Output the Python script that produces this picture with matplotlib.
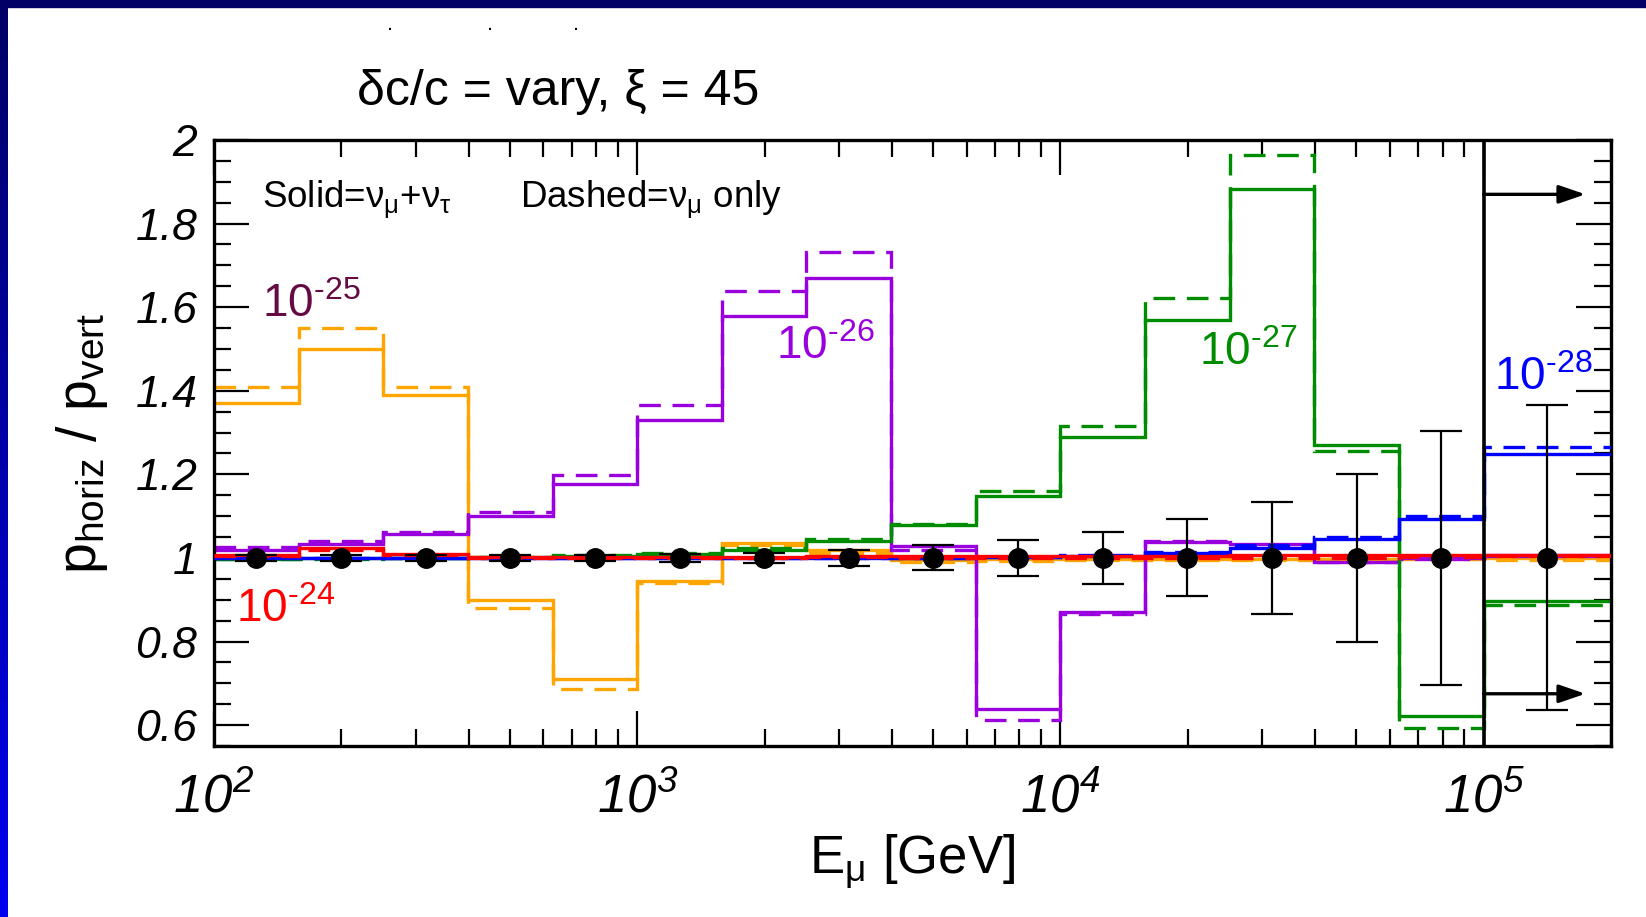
import numpy as np
import matplotlib
matplotlib.use('Agg')
import matplotlib.pyplot as plt
from matplotlib import font_manager as fm
from matplotlib.ticker import LogLocator, MultipleLocator, FuncFormatter, NullFormatter
from matplotlib.colors import LinearSegmentedColormap

names = {f.name for f in fm.fontManager.ttflist}
NARROW = 'Liberation Sans Narrow' if 'Liberation Sans Narrow' in names else 'Liberation Sans'

plt.rcParams['font.family'] = [NARROW, 'DejaVu Sans']
plt.rcParams['mathtext.fontset'] = 'custom'
plt.rcParams['mathtext.rm'] = NARROW
plt.rcParams['mathtext.it'] = NARROW + ':italic'
plt.rcParams['mathtext.sf'] = NARROW
plt.rcParams['mathtext.bf'] = NARROW + ':bold'

# ---------------- data ----------------
bin_edges = [100, 158.5, 251.2, 398.1, 631.0, 1000, 1585, 2512, 3981, 6310,
             10000, 15850, 25120, 39810, 63100, 100000, 200000]
bin_centers = [125.9, 199.5, 316.2, 501.2, 794.3, 1259, 1995, 3162, 5012, 7943,
               12590, 19950, 31620, 50120, 79430, 141400]
data_ratio = [1.0, 1.0, 1.0, 1.0, 1.0, 1.0, 1.0, 1.0, 1.0, 1.0, 1.0, 1.0, 1.0, 1.0, 1.0, 1.0]
data_err = [0.008, 0.008, 0.008, 0.008, 0.008, 0.009, 0.012, 0.02, 0.03, 0.044,
            0.063, 0.092, 0.135, 0.2, 0.303, 0.365]

red_solid = [1.007, 1.024, 1.010, 1.003, 1.002, 1.002, 1.003, 1.005, 1.005, 1.005,
             1.005, 1.005, 1.006, 1.006, 1.007, 1.008]
red_dashed = [1.004, 1.020, 1.008, 1.000, 0.999, 1.000, 1.000, 1.002, 1.000, 1.000,
              1.001, 1.000, 1.000, 1.000, 1.002, 1.004]
orange_solid = [1.37, 1.50, 1.39, 0.90, 0.71, 0.945, 1.035, 1.02, 0.995, 0.997,
                0.998, 0.998, 0.998, 0.998, 0.999, 0.999]
orange_dashed = [1.41, 1.55, 1.41, 0.88, 0.686, 0.941, 1.03, 1.012, 0.99, 0.993,
                 0.995, 0.995, 0.996, 0.997, 0.997, 0.995]
purple_solid = [1.02, 1.033, 1.057, 1.10, 1.178, 1.33, 1.58, 1.67, 1.028, 0.638,
                0.870, 1.037, 1.034, 0.99, 1.0, 1.008]
purple_dashed = [1.025, 1.04, 1.063, 1.11, 1.198, 1.366, 1.639, 1.732, 1.02, 0.612,
                 0.867, 1.04, 1.03, 0.99, 0.998, 1.005]
green_solid = [0.998, 0.999, 1.0, 1.002, 1.005, 1.01, 1.02, 1.04, 1.078, 1.147,
               1.29, 1.57, 1.883, 1.27, 0.621, 0.897]
green_dashed = [0.997, 0.998, 1.0, 1.003, 1.006, 1.012, 1.024, 1.046, 1.082, 1.161,
                1.315, 1.621, 1.964, 1.255, 0.594, 0.887]
blue_solid = [0.999, 0.999, 0.999, 0.999, 1.0, 1.0, 1.0, 1.0, 1.0, 1.002,
              1.005, 1.011, 1.023, 1.045, 1.093, 1.249]
blue_dashed = [0.999, 0.999, 0.999, 1.0, 1.0, 1.0, 1.0, 1.0, 1.0, 1.003,
               1.007, 1.015, 1.03, 1.05, 1.10, 1.265]

series_labels = [r'$\mathrm{10^{\text{-24}}}$', r'$\mathrm{10^{\text{-25}}}$', r'$\mathrm{10^{\text{-26}}}$',
                 r'$\mathrm{10^{\text{-27}}}$', r'$\mathrm{10^{\text{-28}}}$']
label_x = [113, 130, 2130, 21300, 106000]
label_y = [0.875, 1.605, 1.505, 1.49, 1.43]
label_colors = ['#ff0000', '#660a44', '#9900dd', '#008c00', '#0000ff']

arrow_y = [1.87, 0.675]
arrow_x = [100000, 174000]

ORANGE = '#ffa500'
PURPLE = '#9900dd'
GREEN = '#008c00'
BLUE = '#0000ff'
RED = '#ff0000'

# ---------------- figure ----------------
W, H = 1646, 917
fig = plt.figure(figsize=(W / 100, H / 100), dpi=100)
ax = fig.add_axes([214 / W, 1 - 746 / H, (1611 - 214) / W, (746 - 140) / H])

# frame decoration
fig.patches.append(plt.Rectangle((0, 1 - 7 / H), 1, 7 / H, transform=fig.transFigure,
                                 color='#000066', zorder=0))
bar = fig.add_axes([0, 0, 8 / W, 1 - 7 / H])
grad = np.linspace(0, 1, 256).reshape(-1, 1)
cmap = LinearSegmentedColormap.from_list('b', ['#000066', '#0000f0'])
bar.imshow(grad, aspect='auto', cmap=cmap, extent=[0, 1, 0, 1], origin='upper')
bar.set_axis_off()

lw = 2.4
dash = (6.5, 3.5)

def draw(vals, color, dashed=False, z=2):
    ls = (0, dash) if dashed else '-'
    ax.stairs(vals, bin_edges, baseline=None, color=color, lw=lw, linestyle=ls, zorder=z)

draw(orange_solid, ORANGE); draw(orange_dashed, ORANGE, True)
draw(purple_solid, PURPLE); draw(purple_dashed, PURPLE, True)
draw(green_solid, GREEN); draw(green_dashed, GREEN, True)
draw(blue_solid, BLUE, z=3); draw(blue_dashed, BLUE, True, z=3)
draw(red_solid, RED, z=4); draw(red_dashed, RED, True, z=4)

ax.errorbar(bin_centers, data_ratio, yerr=data_err, fmt='o', color='black',
            markersize=14, elinewidth=1.6, capsize=15, capthick=1.6, zorder=6)

ax.axvline(100000, color='black', lw=2.6, zorder=5)
for yy in arrow_y:
    ax.annotate('', xy=(arrow_x[1], yy), xytext=(arrow_x[0], yy),
                arrowprops=dict(arrowstyle='-|>,head_length=1.6,head_width=0.55', lw=2.4,
                                color='black', shrinkA=0, shrinkB=0), zorder=7)

for t, x, y, c in zip(series_labels, label_x, label_y, label_colors):
    ax.text(x, y, t, color=c, fontsize=33, ha='left', va='center', zorder=8)

ax.text(130, 1.857, r'Solid=$\mathrm{\nu_{\mu}{+}\nu_{\tau}}$', fontsize=26.5, va='center', ha='left')
ax.text(528, 1.857, r'Dashed=$\mathrm{\nu_{\mu}}$ only', fontsize=26.5, va='center', ha='left')

ax.set_xscale('log')
ax.set_xlim(100, 200000)
ax.set_ylim(0.55, 2.0)
ax.xaxis.set_major_locator(LogLocator(base=10))
ax.xaxis.set_minor_locator(LogLocator(base=10, subs=np.arange(2, 10)))
ax.xaxis.set_minor_formatter(NullFormatter())
ax.xaxis.set_major_formatter(FuncFormatter(lambda v, p: r'$\mathregular{10^{%d}}$' % round(np.log10(v))))
ax.yaxis.set_major_locator(MultipleLocator(0.2))
ax.yaxis.set_minor_locator(MultipleLocator(0.05))
ax.yaxis.set_major_formatter(FuncFormatter(lambda v, p: ('%.1f' % v).rstrip('0').rstrip('.')))

ax.tick_params(which='both', direction='in', top=True, right=True, width=1.6)
ax.tick_params(which='major', length=25)
ax.tick_params(which='minor', length=12)
ax.tick_params(axis='y', labelsize=32, pad=12)
ax.tick_params(axis='x', labelsize=38, pad=20)
for lab in ax.get_yticklabels() + ax.get_xticklabels():
    lab.set_fontstyle('italic')
for s in ax.spines.values():
    s.set_linewidth(2.4)

ax.set_xlabel(r'$\mathrm{E_{\mu}}$ [GeV]', fontsize=38, labelpad=6)
ax.set_ylabel(r'$\mathrm{p_{horiz}\ /\ p_{vert}}$', fontsize=40, labelpad=18)

fig.text(357 / W, 1 - 92 / H, 'δc/c = vary, ξ = 45', fontsize=36, ha='left', va='center')

# small marks at top
for xx in [390, 490, 576]:
    fig.text(xx / W, 1 - 24 / H, '.', fontsize=16, ha='center', va='center')

fig.savefig('out.png', dpi=100)
